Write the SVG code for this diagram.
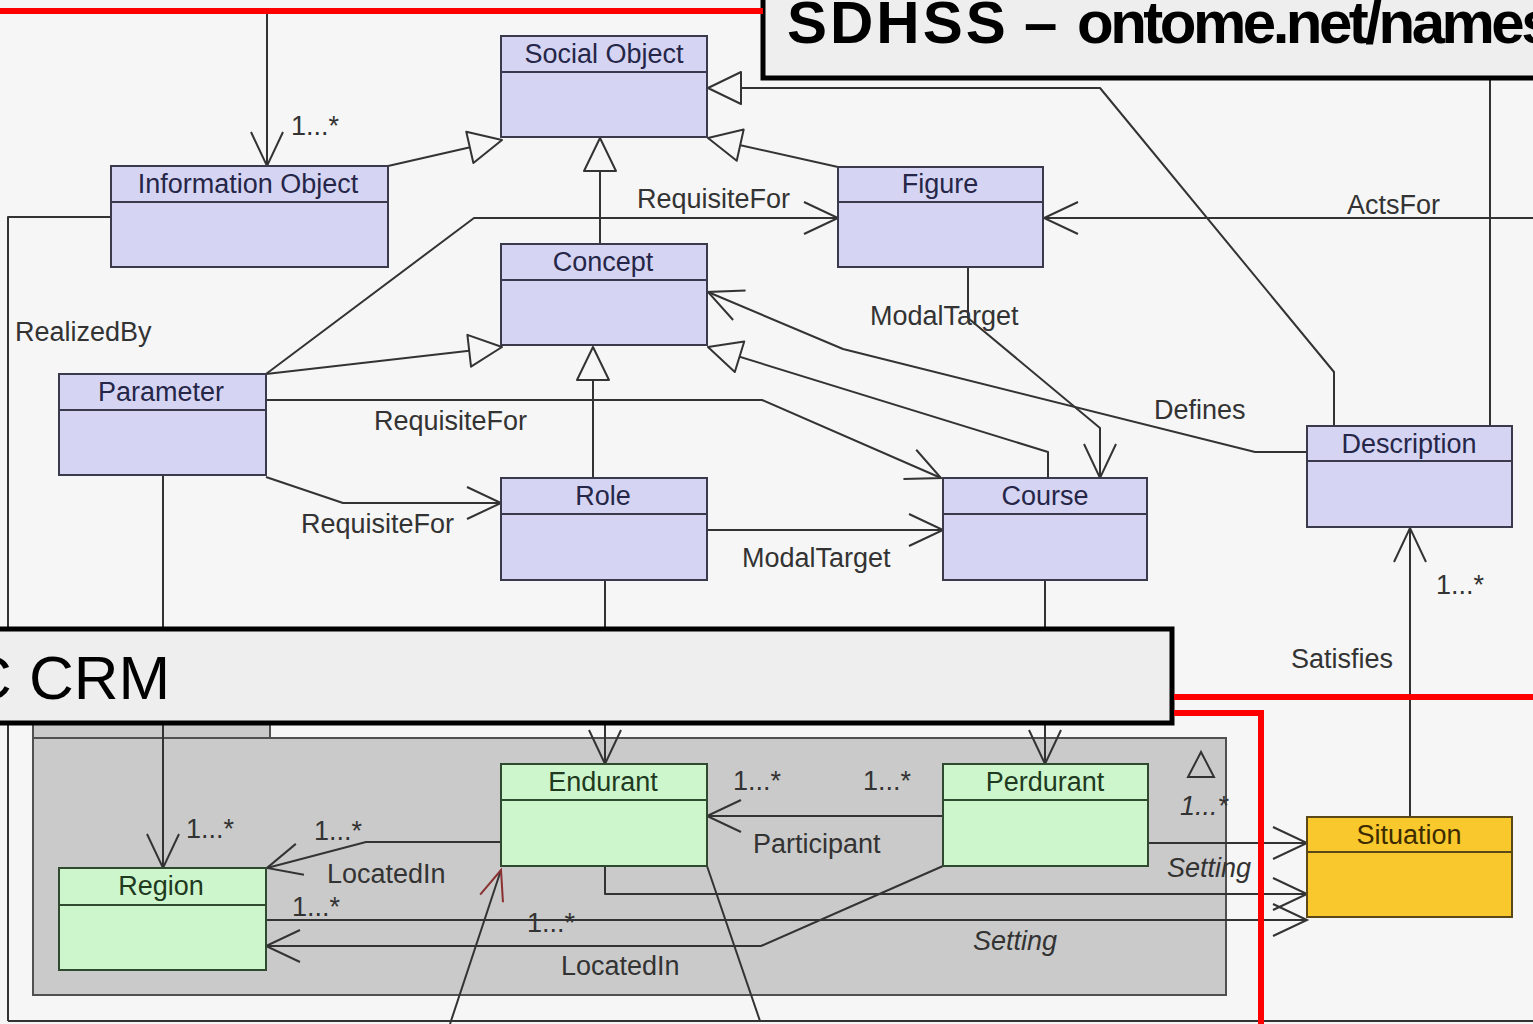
<svg xmlns="http://www.w3.org/2000/svg" width="1533" height="1024" viewBox="0 0 1533 1024">
<defs>
<style>
.bg{fill:#f6f6f6}
.cp{fill:#d5d5f3;stroke:#3a3a4c;stroke-width:2}
.cg{fill:#cdf6cd;stroke:#2f4a2f;stroke-width:2}
.cy{fill:#f8c82c;stroke:#5a4818;stroke-width:2}
.dp{stroke:#3a3a4c;stroke-width:2}
.dg{stroke:#2f4a2f;stroke-width:2}
.dy{stroke:#5a4818;stroke-width:2}
.name{font-family:"Liberation Sans",Arial,sans-serif;font-size:27px;text-anchor:middle}
.tp{fill:#262648}
.tg{fill:#1f3a1f}
.ty{fill:#3d2c00}
.lbl{font-family:"Liberation Sans",Arial,sans-serif;font-size:27px;fill:#333}
.it{font-style:italic}
.c{fill:none;stroke:#333;stroke-width:2;stroke-linejoin:round}
.a{marker-end:url(#arr)}
.g{marker-end:url(#tri)}
.r{marker-end:url(#arrRed)}
.title{fill:#eeeeee;stroke:#000;stroke-width:5}
.red{fill:none;stroke:#ff0000;stroke-width:6}
.big{font-family:"Liberation Sans",Arial,sans-serif;fill:#000}
</style>
<marker id="arr" markerUnits="userSpaceOnUse" viewBox="-37 -19 40 38" markerWidth="40" markerHeight="38" refX="0" refY="0" orient="auto" overflow="visible">
<path d="M-34,-16 L0,0 L-34,16" fill="none" stroke="#333" stroke-width="2"/>
</marker>
<marker id="tri" markerUnits="userSpaceOnUse" viewBox="-37 -19 40 38" markerWidth="40" markerHeight="38" refX="0" refY="0" orient="auto" overflow="visible">
<path d="M0,0 L-33,-16 L-33,16 Z" fill="#f6f6f6" stroke="#333" stroke-width="2" stroke-linejoin="round"/>
</marker>
<marker id="arrRed" markerUnits="userSpaceOnUse" viewBox="-33 -15 36 30" markerWidth="36" markerHeight="30" refX="0" refY="0" orient="auto" overflow="visible">
<path d="M-30,-12 L0,0 L-30,12" fill="none" stroke="#8a3030" stroke-width="2"/>
</marker>
</defs>

<rect class="bg" x="0" y="0" width="1533" height="1024"/>

<g id="package-crm">
<rect x="33" y="710" width="237" height="28" fill="#cacaca" stroke="#505050" stroke-width="2"/>
<rect x="33" y="738" width="1193" height="257" fill="#cacaca" stroke="#505050" stroke-width="2"/>
<polygon points="1201,752 1188,777 1214,777" fill="none" stroke="#333" stroke-width="2"/>
</g>

<g id="connectors">
<path class="c" d="M8,1021 H1533" stroke="#777"/>
<path class="c" d="M111,217 H8 V1021"/>
<path class="c a" d="M267,11 V166"/>
<path class="c g" d="M388,166 L502,140"/>
<path class="c g" d="M838,167 L708,138"/>
<path class="c g" d="M1334,426 V372 L1100,88 H708"/>
<path class="c g" d="M600,244 V138"/>
<path class="c a" d="M266,374 L474,218 H838"/>
<path class="c a" d="M1533,218 H1044"/>
<path class="c" d="M1490,78 V426"/>
<path class="c g" d="M266,374 L502,347"/>
<path class="c g" d="M593,478 V347"/>
<path class="c g" d="M1048,478 V452 L708,347"/>
<path class="c a" d="M1307,452 H1255 L843,349 L708,292"/>
<path class="c a" d="M968,267 V318 L1100,428 V478"/>
<path class="c a" d="M266,400 H762 L941,478"/>
<path class="c a" d="M266,477 L343,503 H501"/>
<path class="c a" d="M707,530 H943"/>
<path class="c a" d="M1410,817 V528"/>
<path class="c a" d="M163,475 V868"/>
<path class="c a" d="M605,580 V764"/>
<path class="c a" d="M1045,580 V764"/>
<path class="c a" d="M943,816 H707"/>
<path class="c a" d="M1148,843 H1307"/>
<path class="c a" d="M605,866 V894 H1307"/>
<path class="c a" d="M266,920 H1307"/>
<path class="c a" d="M943,866 L761,946 H266"/>
<path class="c a" d="M501,842 H366 L267,868"/>
<path class="c r" d="M450,1024 L501,870"/>
<path class="c" d="M707,866 L760,1021"/>

<text class="lbl" x="291" y="135">1...*</text>
<text class="lbl" x="637" y="208">RequisiteFor</text>
<text class="lbl" x="1347" y="214">ActsFor</text>
<text class="lbl" x="15" y="341">RealizedBy</text>
<text class="lbl" x="870" y="325">ModalTarget</text>
<text class="lbl" x="1154" y="419">Defines</text>
<text class="lbl" x="374" y="430">RequisiteFor</text>
<text class="lbl" x="301" y="533">RequisiteFor</text>
<text class="lbl" x="742" y="567">ModalTarget</text>
<text class="lbl" x="1436" y="594">1...*</text>
<text class="lbl" x="1291" y="668">Satisfies</text>
<text class="lbl" x="733" y="790">1...*</text>
<text class="lbl" x="863" y="790">1...*</text>
<text class="lbl" x="753" y="853">Participant</text>
<text class="lbl it" x="1180" y="815">1...*</text>
<text class="lbl it" x="1167" y="877">Setting</text>
<text class="lbl" x="186" y="838">1...*</text>
<text class="lbl" x="314" y="840">1...*</text>
<text class="lbl" x="327" y="883">LocatedIn</text>
<text class="lbl" x="292" y="916">1...*</text>
<text class="lbl" x="527" y="932">1...*</text>
<text class="lbl it" x="973" y="950">Setting</text>
<text class="lbl" x="561" y="975">LocatedIn</text>
</g>

<g id="social-object"><rect class="cp" x="501" y="36" width="206" height="101"/><line class="dp" x1="501" y1="72" x2="707" y2="72"/><text class="name tp" x="604" y="63">Social Object</text></g>
<g id="information-object"><rect class="cp" x="111" y="166" width="277" height="101"/><line class="dp" x1="111" y1="202" x2="388" y2="202"/><text class="name tp" x="248" y="193">Information Object</text></g>
<g id="figure"><rect class="cp" x="838" y="167" width="205" height="100"/><line class="dp" x1="838" y1="202" x2="1043" y2="202"/><text class="name tp" x="940" y="193">Figure</text></g>
<g id="concept"><rect class="cp" x="501" y="244" width="206" height="101"/><line class="dp" x1="501" y1="280" x2="707" y2="280"/><text class="name tp" x="603" y="271">Concept</text></g>
<g id="parameter"><rect class="cp" x="59" y="374" width="207" height="101"/><line class="dp" x1="59" y1="410" x2="266" y2="410"/><text class="name tp" x="161" y="401">Parameter</text></g>
<g id="role"><rect class="cp" x="501" y="478" width="206" height="102"/><line class="dp" x1="501" y1="514" x2="707" y2="514"/><text class="name tp" x="603" y="505">Role</text></g>
<g id="course"><rect class="cp" x="943" y="478" width="204" height="102"/><line class="dp" x1="943" y1="514" x2="1147" y2="514"/><text class="name tp" x="1045" y="505">Course</text></g>
<g id="description"><rect class="cp" x="1307" y="426" width="205" height="101"/><line class="dp" x1="1307" y1="461" x2="1512" y2="461"/><text class="name tp" x="1409" y="453">Description</text></g>
<g id="endurant"><rect class="cg" x="501" y="764" width="206" height="102"/><line class="dg" x1="501" y1="800" x2="707" y2="800"/><text class="name tg" x="603" y="791">Endurant</text></g>
<g id="perdurant"><rect class="cg" x="943" y="764" width="205" height="102"/><line class="dg" x1="943" y1="800" x2="1148" y2="800"/><text class="name tg" x="1045" y="791">Perdurant</text></g>
<g id="region"><rect class="cg" x="59" y="868" width="207" height="102"/><line class="dg" x1="59" y1="905" x2="266" y2="905"/><text class="name tg" x="161" y="895">Region</text></g>
<g id="situation"><rect class="cy" x="1307" y="817" width="205" height="100"/><line class="dy" x1="1307" y1="852" x2="1512" y2="852"/><text class="name ty" x="1409" y="844">Situation</text></g>

<g id="title-sdhss">
<rect class="title" x="763" y="-10" width="790" height="88"/>
<text class="big" y="43" font-size="60" font-weight="bold"><tspan x="787" letter-spacing="3">SDHSS</tspan><tspan x="1024">–</tspan><tspan x="1077" letter-spacing="-3.5">ontome.net/names</tspan></text>
</g>
<g id="title-crm">
<rect class="title" x="-10" y="629" width="1182" height="94"/>
<text class="big" x="-33" y="699" font-size="62">C CRM</text>
</g>
<g id="red-lines">
<path class="red" d="M0,11 H763"/>
<path class="red" d="M1174,697 H1533" stroke-width="5"/>
<path class="red" d="M1174,713 H1261 V1024"/>
</g>
</svg>
